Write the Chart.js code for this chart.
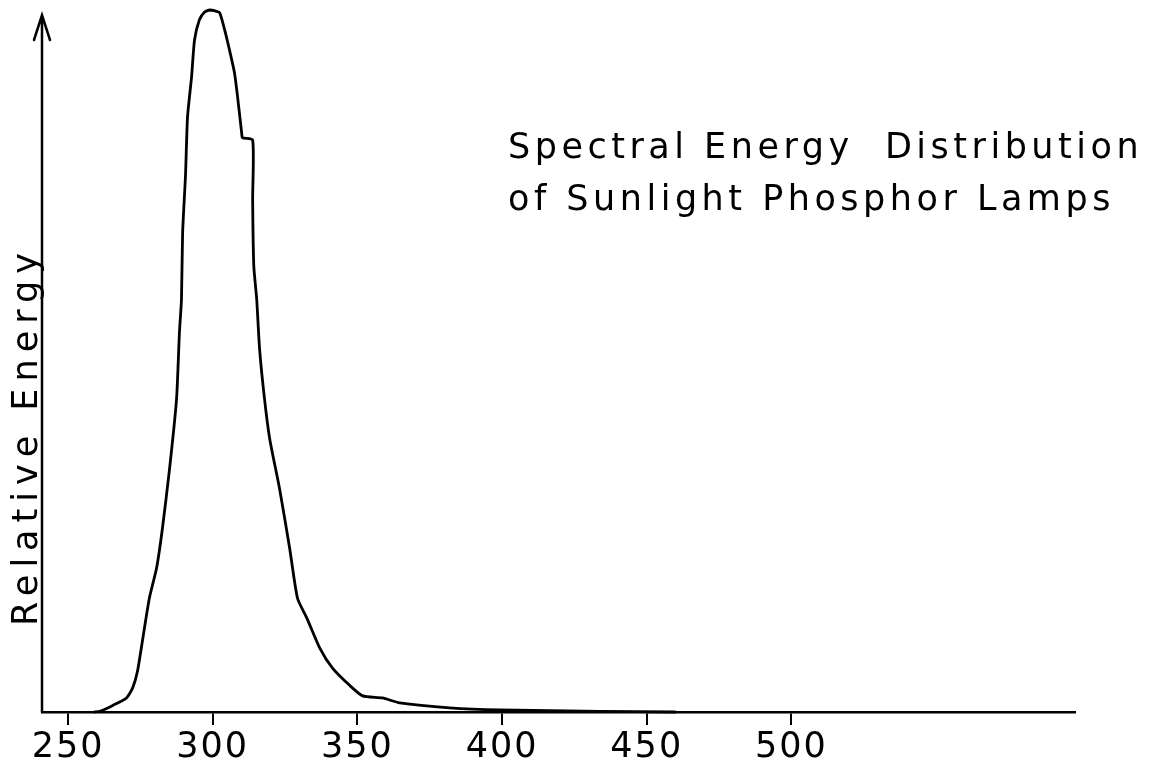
<!DOCTYPE html>
<html>
<head>
<meta charset="utf-8">
<title>Spectral Energy Distribution</title>
<script src="https://cdn.jsdelivr.net/npm/chart.js@4/dist/chart.umd.min.js"></script>
<style>
  html, body { margin: 0; padding: 0; background: #fff; }
  #wrap { width: 1151px; height: 771px; }
</style>
</head>
<body>
<div id="wrap"><canvas id="spectrum"></canvas></div>
<script>
// Wavelength in nm, relative energy in % of the peak
const wavelengths = [259, 261, 265.3, 270.2, 272.3, 274, 275.7, 278.1, 280.6, 282.6, 285.1, 287.5,
  288.5, 289.2, 289.6, 290.6, 291.3, 292.7, 293.7, 295.4, 297.2, 298.9, 300.6, 302.4, 304.1,
  305.8, 307.5, 308.6, 310, 310.3, 313.8, 313.8, 314.2, 315.2, 316.2, 317.9, 319.7, 323.1,
  326.6, 329.3, 332.5, 337, 341.4, 347.3, 351.8, 358.7, 364.6, 381.9, 399.2, 433.8, 460];
const energy = [0, 0.1, 0.9, 2.0, 3.4, 5.8, 10.1, 16.2, 20.5, 26.1, 34.7, 44.6,
  54.1, 58.8, 68.3, 76.5, 84.8, 90.5, 95.7, 98.6, 99.7, 100, 99.9, 99.6, 97.2,
  94.3, 91.1, 87.6, 82.5, 81.8, 81.5, 73.0, 63.5, 58.8, 51.7, 44.6, 38.9, 31.8,
  23.3, 16.2, 13.4, 9.1, 6.25, 3.8, 2.3, 2.0, 1.3, 0.6, 0.3, 0.1, 0];

const tickValues = [250, 300, 350, 400, 450, 500];
const titleLines = ['Spectral Energy  Distribution', 'of Sunlight Phosphor Lamps'];
const yTitle = 'Relative Energy';

const FONT = '"DejaVu Sans", sans-serif';

// Wider letter spacing for the whole canvas, tick labels included
const spacingPlugin = {
  id: 'spacing',
  beforeDraw(chart) {
    chart.ctx.letterSpacing = '2px';
  }
};

// Arrowed energy axis, rotated axis name and the two-line heading
const decorPlugin = {
  id: 'decor',
  afterDraw(chart) {
    const ctx = chart.ctx;
    const area = chart.chartArea;
    const x0 = area.left;
    ctx.save();
    ctx.strokeStyle = '#000';
    ctx.lineWidth = 2.5;
    ctx.lineCap = 'round';
    ctx.beginPath();
    ctx.moveTo(x0, area.bottom);
    ctx.lineTo(x0, 15);
    ctx.moveTo(x0 - 8, 40);
    ctx.lineTo(x0, 15);
    ctx.lineTo(x0 + 8, 40);
    ctx.stroke();

    ctx.fillStyle = '#000';
    ctx.font = '35px ' + FONT;
    ctx.textBaseline = 'alphabetic';

    ctx.save();
    ctx.letterSpacing = '7px';
    ctx.translate(37, 436);
    ctx.rotate(-Math.PI / 2);
    ctx.textAlign = 'center';
    ctx.fillText(yTitle, 0, 0);
    ctx.restore();

    ctx.letterSpacing = '4.5px';
    ctx.textAlign = 'left';
    ctx.fillText(titleLines[0], 508, 158);
    ctx.fillText(titleLines[1], 508, 210);
    ctx.restore();
  }
};

new Chart(document.getElementById('spectrum'), {
  type: 'line',
  data: {
    datasets: [{
      data: wavelengths.map((w, i) => ({ x: w, y: energy[i] })),
      borderColor: '#000',
      borderWidth: 2.8,
      pointRadius: 0,
      tension: 0.2,
      fill: false,
      clip: false
    }]
  },
  options: {
    responsive: true,
    maintainAspectRatio: false,
    animation: false,
    layout: { padding: { left: 42, right: 76, top: 10, bottom: 0 } },
    plugins: {
      legend: { display: false },
      tooltip: { enabled: false }
    },
    scales: {
      x: {
        type: 'linear',
        min: 241,
        max: 598,
        afterBuildTicks: (scale) => {
          scale.ticks = tickValues.map(v => ({ value: v }));
        },
        border: { display: true, color: '#000', width: 2.5 },
        grid: {
          drawOnChartArea: false,
          drawTicks: true,
          tickLength: 13,
          color: '#000',
          lineWidth: 2
        },
        ticks: {
          color: '#000',
          font: { family: FONT, size: 35 },
          padding: 2,
          maxRotation: 0,
          autoSkip: false
        }
      },
      y: {
        type: 'linear',
        min: 0,
        max: 100,
        display: false
      }
    }
  },
  plugins: [spacingPlugin, decorPlugin]
});
</script>
</body>
</html>
